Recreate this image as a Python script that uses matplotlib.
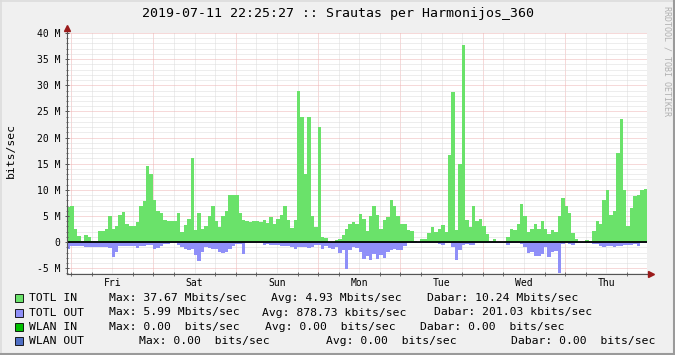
import numpy as np
import matplotlib.pyplot as plt
from matplotlib.patches import Rectangle
from matplotlib.lines import Line2D

TITLE = "2019-07-11 22:25:27 :: Srautas per Harmonijos_360"
DAYS = ["Fri", "Sat", "Sun", "Mon", "Tue", "Wed", "Thu"]
FIRST_MIDNIGHT = 1.17  # hours from first sample to Fri 00:00

# hourly averages, Mbit/s
TOTL_IN = [
    6.75, 7.0, 2.5, 1.2, 0.3, 1.4, 0.9, 0.3, 0.2, 2.1, 2.2, 2.6, 5.0, 2.6, 3.0, 5.2,
    5.7, 3.5, 3.0, 3.0, 3.8, 7.0, 7.8, 14.5, 13.0, 8.0, 6.0, 5.5, 4.2, 4.0, 4.0, 4.0,
    5.5, 2.0, 3.3, 4.5, 16.0, 2.4, 5.5, 2.5, 3.0, 5.0, 7.0, 4.0, 2.8, 5.0, 6.0, 9.0,
    9.0, 9.0, 5.5, 4.2, 4.0, 3.9, 4.0, 4.0, 3.9, 4.3, 3.7, 4.8, 3.4, 4.5, 5.2, 7.0,
    4.2, 2.7, 4.2, 29.0, 24.0, 13.0, 24.0, 5.0, 2.8, 22.0, 0.9, 0.8, 0.1, 0.05, 0.4, 0.5,
    1.3, 2.5, 3.5, 3.8, 3.4, 5.3, 4.5, 2.2, 5.0, 7.0, 5.2, 2.5, 4.2, 4.8, 8.0, 7.0,
    5.0, 3.5, 3.5, 2.3, 2.2, 0.3, 0.05, 0.5, 0.5, 1.8, 2.8, 2.0, 2.5, 3.3, 2.0, 16.6,
    28.7, 2.3, 15.0, 37.67, 4.2, 2.9, 7.0, 4.0, 4.5, 3.1, 1.5, 0.3, 0.5, 0.1, 0.1, 0.05,
    0.9, 2.5, 2.3, 3.5, 7.2, 5.0, 2.0, 2.5, 3.5, 2.5, 4.0, 2.5, 1.5, 2.3, 2.0, 5.0,
    8.5, 7.0, 5.5, 1.8, 0.6, 0.1, 0.05, 0.4, 0.25, 2.2, 4.0, 3.4, 8.0, 10.0, 5.2, 6.0,
    17.0, 23.5, 10.0, 3.0, 6.5, 8.9, 9.0, 10.0, 10.24,
]
TOTL_OUT = [
    1.4, 0.7, 0.8, 0.8, 0.8, 1.0, 1.0, 0.9, 0.9, 0.9, 0.9, 0.9, 1.2, 2.8, 1.8, 0.8,
    0.8, 0.8, 0.8, 0.8, 1.2, 0.8, 0.8, 0.5, 0.5, 1.3, 1.2, 0.8, 0.4, 0.4, 0.25, 0.25,
    0.6, 1.0, 1.4, 1.6, 1.4, 2.5, 3.6, 1.8, 1.0, 1.1, 1.3, 1.3, 1.9, 2.0, 1.8, 1.4,
    0.8, 0.4, 0.4, 2.2, 0.25, 0.25, 0.25, 0.25, 0.25, 0.5, 0.4, 0.6, 0.6, 0.6, 0.8, 0.8,
    0.8, 0.9, 1.3, 0.9, 1.0, 0.9, 1.1, 1.0, 0.5, 0.6, 1.3, 0.8, 1.1, 1.3, 1.0, 2.0,
    1.5, 5.2, 1.6, 0.9, 1.2, 1.8, 3.2, 2.6, 3.4, 2.3, 3.3, 2.4, 3.0, 1.8, 1.5, 1.4,
    1.5, 1.5, 0.8, 0.1, 0.1, 0.1, 0.1, 0.1, 0.1, 0.1, 0.1, 0.1, 0.3, 0.5, 0.25, 0.25,
    1.0, 3.4, 1.5, 0.5, 0.4, 0.6, 0.5, 0.25, 0.25, 0.2, 0.1, 0.25, 0.25, 0.2, 0.1, 0.2,
    0.5, 0.25, 0.25, 0.25, 0.4, 0.9, 2.0, 1.8, 2.7, 2.7, 2.3, 0.9, 2.8, 1.8, 1.7, 5.99,
    0.4, 0.25, 0.3, 0.5, 0.1, 0.1, 0.1, 0.1, 0.1, 0.4, 0.4, 0.8, 0.85, 0.7, 0.8, 0.9,
    0.7, 0.7, 0.6, 0.5, 0.5, 0.3, 0.7, 0.25, 0.2,
]

SERIES = ["TOTL IN", "TOTL OUT", "WLAN IN", "WLAN OUT"]
COLORS = ["#6AE26A", "#8F8FF8", "#00C000", "#4F6FC4"]
MAX_TXT = ["Max: 37.67 Mbits/sec", "Max: 5.99 Mbits/sec",
           "Max: 0.00  bits/sec", "Max: 0.00  bits/sec"]
AVG_TXT = ["Avg: 4.93 Mbits/sec", "Avg: 878.73 kbits/sec",
           "Avg: 0.00  bits/sec", "Avg: 0.00  bits/sec"]
NOW_TXT = ["Dabar: 10.24 Mbits/sec", "Dabar: 201.03 kbits/sec",
           "Dabar: 0.00  bits/sec", "Dabar: 0.00  bits/sec"]

W, H = 675, 355
MONO = "DejaVu Sans Mono"
GRID_C = "#DCDCDC"
MGRID_C = "#EEB4B4"


def fx(px):
    return px / W


def fy(py):
    return 1 - py / H


fig = plt.figure(figsize=(W / 100, H / 100), dpi=100, facecolor="#F0F0F0")
ax = fig.add_axes([fx(67), fy(274), fx(647) - fx(67), fy(33) - fy(274)])
ax.set_facecolor("white")

n = len(TOTL_IN)
edges = np.arange(n + 1)
ax.set_xlim(0, n)
ax.set_ylim(-6.1, 40)

# grid
dot = (0, (1, 1))
for h in np.arange(FIRST_MIDNIGHT, n, 6):
    major = abs(((h - FIRST_MIDNIGHT) % 24)) < 1e-6
    ax.axvline(h, color=MGRID_C if major else GRID_C, lw=0.72, ls=dot, zorder=0)
for v in range(-6, 41):
    ax.axhline(v, color=MGRID_C if v % 5 == 0 else GRID_C, lw=0.72, ls=dot, zorder=0)

ax.stairs(TOTL_IN, edges, fill=True, color=COLORS[0], lw=0, zorder=1)
ax.stairs(-np.array(TOTL_OUT), edges, fill=True, color=COLORS[1], lw=0, zorder=1)
ax.axhline(0, color="black", lw=1.3, zorder=2)

# axes
for s in ["top", "right"]:
    ax.spines[s].set_visible(False)
for s in ["left", "bottom"]:
    ax.spines[s].set_color("#555555")
    ax.spines[s].set_linewidth(0.8)

ax.set_yticks(range(-5, 41, 5))
ax.set_yticklabels(["-5 M", "0"] + ["%d M" % v for v in range(5, 41, 5)],
                   family=MONO, fontsize=7)
ax.set_yticks(range(-6, 41), minor=True)
ax.tick_params(axis="y", which="major", direction="inout", length=3.5,
               width=0.7, color="#555555", pad=3)
ax.tick_params(axis="y", which="minor", direction="inout", length=2,
               width=0.6, color="#555555")

noons = FIRST_MIDNIGHT + 12 + 24 * np.arange(len(DAYS))
ax.set_xticks(noons)
ax.set_xticklabels(DAYS, family=MONO, fontsize=7)
ax.set_xticks(np.arange(FIRST_MIDNIGHT, n, 6), minor=True)
ax.tick_params(axis="x", which="major", length=0, pad=3)
ax.tick_params(axis="x", which="minor", direction="inout", length=2.5,
               width=0.6, color="#555555")

# arrows
arrow_c = "#9B1B1B"
ax.add_line(Line2D([0, 0], [1, 1 + 5 / 241], transform=ax.transAxes,
                   color="#555555", lw=0.8, clip_on=False))
ax.plot([0], [1 + 5 / 241], marker="^", ms=4.5, color=arrow_c,
        transform=ax.transAxes, clip_on=False)
ax.add_line(Line2D([1, 1 + 4 / 580], [0, 0], transform=ax.transAxes,
                   color="#555555", lw=0.8, clip_on=False))
ax.plot([1 + 4 / 580], [0], marker=">", ms=4.5, color=arrow_c,
        transform=ax.transAxes, clip_on=False)

# texts
fig.text(0.5, fy(14), TITLE, ha="center", va="center", family=MONO, fontsize=9.5)
fig.text(fx(11), fy(150), "bits/sec", rotation=90, ha="center", va="center",
         family=MONO, fontsize=8.2)
fig.text(fx(667), fy(6), "RRDTOOL / TOBI OETIKER", rotation=270, ha="center",
         va="top", family=MONO, fontsize=6, color="#B0B0B0")

rows_y = [298, 312.5, 327, 341]
max_x = [109, 109, 109, 139]
avg_x = [271, 262, 265, 326]
now_x = [427, 434, 420, 511]
for i, name in enumerate(SERIES):
    y = rows_y[i]
    fig.patches.append(Rectangle((fx(15), fy(y + 4)), 8 / W, 8 / H,
                                 transform=fig.transFigure, facecolor=COLORS[i],
                                 edgecolor="black", lw=0.6))
    for x, t in [(29, name), (max_x[i], MAX_TXT[i]), (avg_x[i], AVG_TXT[i]),
                 (now_x[i], NOW_TXT[i])]:
        fig.text(fx(x), fy(y), t, ha="left", va="center", family=MONO, fontsize=8.2)

# frame shading
fig.add_artist(Line2D([0, 1], [fy(0.5), fy(0.5)], color="#DCDCDC", lw=1.2))
fig.add_artist(Line2D([fx(0.5), fx(0.5)], [0, 1], color="#DCDCDC", lw=1.2))
fig.add_artist(Line2D([0, 1], [fy(354), fy(354)], color="#9A9A9A", lw=1.5))
fig.add_artist(Line2D([fx(674), fx(674)], [0, 1], color="#9A9A9A", lw=1.5))

fig.savefig("out.png", dpi=100, facecolor=fig.get_facecolor())
